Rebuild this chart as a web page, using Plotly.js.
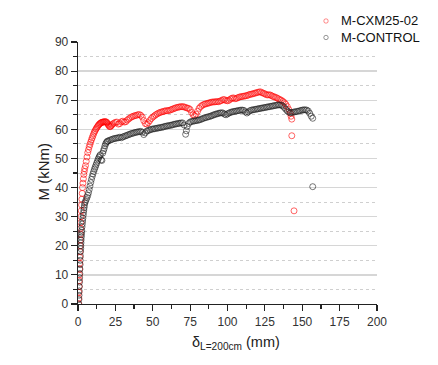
<!DOCTYPE html>
<html><head><meta charset="utf-8">
<script src="https://cdn.plot.ly/plotly-3.0.1.min.js"></script>
<style>html,body{margin:0;padding:0;background:#fff}#chart{width:438px;height:365px}</style>
</head><body><div id="chart"></div>
<script>
const seriesNames = ["M-CXM25-02", "M-CONTROL"];
const xTickVals = [0,25,50,75,100,125,150,175,200];
const yTickVals = [0,10,20,30,40,50,60,70,80,90];

const redX = [0.5,0.6,0.7,0.8,0.9,1.0,1.1,1.2,1.3,1.4,1.5,1.6,1.7,1.8,1.9,2.0,2.2,2.4,2.6,2.8,3.0,3.3,3.6,3.9,4.2,4.5,
5,5.5,6,6.5,7,7.5,8,8.5,9,9.5,10,10.5,11,11.5,12,12.5,13,13.5,14,14.5,15,15.5,16,16.5,17,17.5,18,18.5,19,19.5,20,20.5,21,21.5,22,22.5,
23,24,25,26,27,28,29,30,
31,32,33,34,35,36,37,38,39,40,41,42,43,44,45,46,47,48,49,50,51,52,53,54,55,56,57,58,59,60,
61,62,63,64,65,66,67,68,69,70,71,72,73,74,75,76,77,78,79,80,81,82,83,84,85,86,87,88,89,90,
91,92,93,94,95,96,97,98,99,100,101,102,103,104,105,106,107,108,109,110,111,112,113,114,115,116,117,118,119,120,
121,122,123,124,125,126,127,128,129,130,131,132,133,134,135,136,137,138,139,140,141,142,142.5,143,143,144.5];
const redY = [0,2,4,6,8,10,12,14,16,18,20,22,24,26,28,30,32,34,36,38,40,41.5,43,44.5,45.5,46.5,
47.5,49,50.5,52,53,54,54.8,55.6,56.4,57.1,57.8,58.5,59.1,59.6,60.1,60.5,60.9,61.3,61.6,61.9,62.1,62.3,62.4,62.5,62.5,62.6,62.6,62.6,62.5,62.2,61.8,61.4,61,60.9,61.1,61.4,
61.8,62.1,62.4,62.5,61.8,62,62.6,62.8,
62.5,62.6,63.2,63.6,64,64.3,64.5,64.7,64.8,65,65.1,64.8,64.2,63,62,61.8,62.3,63,63.7,64.2,64.6,65,65.3,65.6,65.8,66,66.1,66.3,66.4,66.4,
66.5,66.7,66.9,67.1,67.3,67.5,67.6,67.7,67.8,67.8,67.7,67.5,67.3,67.2,66.8,65.8,65,64.7,65.2,66.2,67.2,67.8,68.2,68.5,68.7,68.8,69,69.1,69.3,69.4,
69.4,69.5,69.5,69.5,69.7,69.9,70.2,70.2,69.9,69.8,70,70.4,70.7,70.8,70.5,70.6,70.9,71.1,71.2,71.3,71.4,71.5,71.6,71.8,72,72.1,72.2,72.4,72.5,72.7,
72.8,72.9,72.6,72.4,72.2,71.9,71.8,71.9,71.7,71.4,71.2,71,70.8,70.5,70.2,70,69.6,69.2,68.6,67.8,66.8,65.5,64.5,63.5,57.8,32];

const blackX = [0.5,0.6,0.7,0.8,0.9,1.0,1.1,1.2,1.3,1.4,1.5,1.6,1.7,1.8,1.9,2.0,2.1,2.2,2.3,2.4,2.5,2.7,2.9,3.1,3.3,3.5,3.7,3.9,4.1,4.3,4.5,
5,5.5,6,6.5,7,7.5,8,8.5,9,9.5,10,10.5,11,11.5,12,12.5,13,13.5,14,14.5,15,15.5,16,16.5,17,17.5,18,18.5,19,
19.5,20,21,22,23,24,25,26,27,28,29,30,
31,32,33,34,35,36,37,38,39,40,41,42,43,44,45,46,47,48,49,50,51,52,53,54,55,56,57,58,59,60,
61,62,63,64,65,66,67,68,69,70,71,72,72.5,73,74,75,76,77,78,79,80,81,82,83,84,85,86,87,88,89,90,
91,92,93,94,95,96,97,98,99,100,101,102,103,104,105,106,107,108,109,110,111,112,113,114,115,116,117,118,119,120,
121,122,123,124,125,126,127,128,129,130,131,132,133,134,135,136,137,138,139,140,141,142,143,144,145,146,147,148,149,150,
151,152,153,154,155,156,157,157];
const blackY = [0,1.5,3,4.5,6,7.5,9,10.5,12,13.5,15,16.5,18,19,20,21,22,23,23.8,24.6,25.3,26.5,27.5,28.5,29.5,30.5,31.4,32.3,33.1,33.9,34.7,
35.2,35.9,36.6,37.3,38.2,39.3,40.5,41.7,42.8,43.8,44.7,45.5,46.3,47,47.7,48.4,49.1,49.8,50.4,50.9,51.3,49.5,49.3,51.8,52.6,53.4,54.3,55,55.5,
55.8,56,56.2,56.4,56.6,56.8,56.9,57,57.1,57.3,57.1,57.4,
57.6,57.8,58,58.2,58.4,58.6,58.7,58.9,59,59.1,59.2,59.3,59,58.2,58.8,59.4,59.6,59.8,60,60.1,60.2,60.3,60.4,60.5,60.6,60.7,60.8,61,61.1,61.2,
61.3,61.4,61.5,61.7,61.8,61.9,62,62.1,62.2,62.2,61.5,58.3,59.5,61,62,62.5,62.7,62.8,62.9,63,63.1,63.2,63.4,63.6,63.8,64,64.1,64.3,64.4,64.6,64.8,
65,65.2,65.3,65.5,65.6,65.7,65.6,65.2,65,65.3,65.6,65.8,66,66.1,66.2,66.3,66.4,66.5,66.6,66.6,66.5,66,65.6,66,66.4,66.6,66.7,66.8,66.9,67,
67.1,67.2,67.3,67.4,67.5,67.6,67.7,67.8,67.9,68,68.1,68.2,68.3,68.4,68.4,68.3,68,67.5,66.9,66.3,65.9,65.7,65.8,65.9,66,66.1,66.2,66.3,66.5,66.6,
66.7,66.7,66.6,66.3,65.5,64.5,63.8,40.3];

const majorGrid = [10,20,30,40,50,60,70,80];
const minorGrid = [5,15,25,35,45,55,65,75,85];
const redColor = "rgba(255,0,0,0.6)";
const blackColor = "rgba(30,30,30,0.6)";

const font = {family: "Liberation Sans, Arial, sans-serif", size: 12, color: "#333"};
const W = 438, H = 365, L = 78, R = 61, T = 42, B = 61;
const px = v => (v - L) / (W - L - R);
const py = v => (H - B - v) / (H - T - B);

const traces = [
  {x: [], y: [], xaxis: "x", yaxis: "y2", type: "scatter", mode: "markers", showlegend: false, hoverinfo: "skip"},
  {x: redX, y: redY, name: seriesNames[0], type: "scatter", mode: "markers", showlegend: false,
   marker: {symbol: "circle-open", size: 6, color: redColor, line: {width: 1}}},
  {x: blackX, y: blackY, name: seriesNames[1], type: "scatter", mode: "markers", showlegend: false,
   marker: {symbol: "circle-open", size: 6, color: blackColor, line: {width: 1}}}
];

const legendShapes = [redColor, blackColor].map((c, i) => ({
  type: "circle", xref: "paper", yref: "paper", xsizemode: "pixel", ysizemode: "pixel",
  xanchor: px(326), yanchor: py(21 + i * 16.5), x0: -2.2, x1: 2.2, y0: -2.2, y1: 2.2,
  line: {color: i === 0 ? "rgba(255,0,0,0.45)" : "rgba(30,30,30,0.45)", width: 1}, fillcolor: "rgba(0,0,0,0)"
}));

const layout = {
  width: W, height: H,
  margin: {l: L, r: R, t: T, b: B},
  paper_bgcolor: "#fff", plot_bgcolor: "#fff",
  font: font,
  showlegend: false,
  xaxis: {range: [0, 200], tickvals: xTickVals, ticks: "outside", ticklen: 6, tickwidth: 1.2, tickcolor: "#222",
          showline: true, linecolor: "#222", linewidth: 1.3, showgrid: false, zeroline: false,
          minor: {tickvals: [12.5,37.5,62.5,87.5,112.5,137.5,162.5,187.5], ticks: "outside", ticklen: 4, tickcolor: "#222", showgrid: false},
          tickfont: font},
  yaxis: {range: [0, 90], tickvals: yTickVals, ticks: "outside", ticklen: 6, tickwidth: 1.2, tickcolor: "#222",
          showline: true, linecolor: "#222", linewidth: 1.3, showgrid: false, zeroline: false,
          minor: {tickvals: [5,15,25,35,45,55,65,75,85], ticks: "outside", ticklen: 4, tickcolor: "#222", showgrid: false},
          tickfont: font},
  yaxis2: {overlaying: "y", range: [0, 90], tickvals: majorGrid, showticklabels: false, ticks: "",
           showgrid: true, gridcolor: "#d6d6d6", gridwidth: 1.3, zeroline: false, showline: false,
           minor: {tickvals: minorGrid, showgrid: true, gridcolor: "#cfcfcf", griddash: "dot", gridwidth: 1, ticks: ""}},
  shapes: legendShapes,
  annotations: [
    {xref: "paper", yref: "paper", x: px(236), y: py(343), xanchor: "center", yanchor: "middle",
     showarrow: false, text: "δ<sub>L=200cm</sub> (mm)", font: {family: font.family, size: 14.5, color: "#222"}},
    {xref: "paper", yref: "paper", x: px(42.5), y: py(172), xanchor: "center", yanchor: "middle", textangle: -90,
     showarrow: false, text: "M (kNm)", font: {family: font.family, size: 15, color: "#222"}},
    {xref: "paper", yref: "paper", x: px(339), y: py(20.5), xanchor: "left", yanchor: "middle",
     showarrow: false, text: seriesNames[0], font: {family: font.family, size: 13, color: "#111"}},
    {xref: "paper", yref: "paper", x: px(339), y: py(37.5), xanchor: "left", yanchor: "middle",
     showarrow: false, text: seriesNames[1], font: {family: font.family, size: 13, color: "#111"}}
  ]
};

Plotly.newPlot("chart", traces, layout, {displayModeBar: false, staticPlot: true});
</script>
</body></html>
